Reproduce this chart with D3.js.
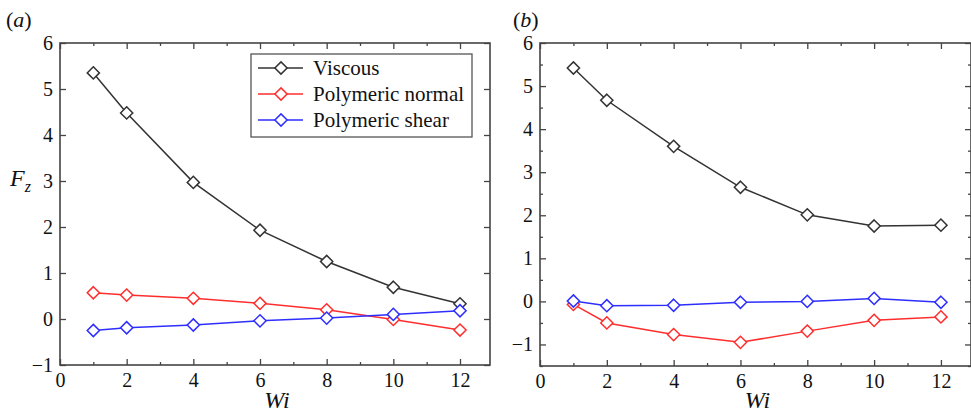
<!DOCTYPE html>
<html>
<head>
<meta charset="utf-8">
<style>
  body { margin: 0; background: #fff; }
</style>
</head>
<body>
<svg id="chart" width="971" height="415" font-family="Liberation Serif"></svg>
<script src="https://d3js.org/d3.v7.min.js"></script>
<script>
  // Weissenberg numbers (shared by both panels)
  const wi = [1, 2, 4, 6, 8, 10, 12];

  const seriesNames = ['Viscous', 'Polymeric normal', 'Polymeric shear'];
  const seriesColors = ['#333333', '#ff2e2e', '#2e2eff'];

  // panel (a)
  const viscousA = [5.35, 4.48, 2.97, 1.93, 1.25, 0.69, 0.33];
  const normalA = [0.57, 0.52, 0.45, 0.34, 0.2, -0.01, -0.24];
  const shearA = [-0.25, -0.19, -0.13, -0.04, 0.02, 0.1, 0.18];

  // panel (b)
  const viscousB = [5.42, 4.67, 3.6, 2.65, 2.01, 1.75, 1.77];
  const normalB = [-0.07, -0.5, -0.77, -0.95, -0.69, -0.44, -0.36];
  const shearB = [0.01, -0.1, -0.09, -0.02, 0.0, 0.07, -0.02];

  const xTicks = [0, 2, 4, 6, 8, 10, 12];
  const xMinor = [1, 3, 5, 7, 9, 11];

  const svg = d3.select('#chart');
  const serif = 'Liberation Serif';

  function styleAxis(sel) {
    sel.attr('font-family', serif).attr('font-size', 20);
    sel.select('.domain').remove();
    sel.selectAll('line').attr('stroke', '#444').attr('stroke-width', 1.3);
    sel.selectAll('text').attr('fill', '#111');
  }

  function drawPanel(opts) {
    const x = d3.scaleLinear().domain([0, 12.9]).range([opts.left, opts.right]);
    const y = d3.scaleLinear().domain(opts.yDomain).range([opts.bottom, opts.top]);
    const g = svg.append('g');

    const yTicks = d3.range(Math.ceil(opts.yDomain[0]), opts.yDomain[1] + 0.01, 1);
    const yMinor = d3.range(Math.ceil(opts.yDomain[0] * 2) / 2, opts.yDomain[1], 1)
      .filter((v) => !Number.isInteger(v));

    // major + minor ticks, inward, on all four sides
    g.append('g').attr('transform', `translate(0,${opts.bottom})`)
      .call(d3.axisBottom(x).tickValues(xTicks).tickSize(-6).tickPadding(8).tickFormat(d3.format('d')))
      .call(styleAxis);
    g.append('g').attr('transform', `translate(0,${opts.bottom})`)
      .call(d3.axisBottom(x).tickValues(xMinor).tickSize(-3).tickFormat(''))
      .call(styleAxis);
    g.append('g').attr('transform', `translate(0,${opts.top})`)
      .call(d3.axisTop(x).tickValues(xTicks).tickSize(-6).tickFormat(''))
      .call(styleAxis);
    g.append('g').attr('transform', `translate(0,${opts.top})`)
      .call(d3.axisTop(x).tickValues(xMinor).tickSize(-3).tickFormat(''))
      .call(styleAxis);

    g.append('g').attr('transform', `translate(${opts.left},0)`)
      .call(d3.axisLeft(y).tickValues(yTicks).tickSize(-6).tickPadding(7).tickFormat(d3.format('d')))
      .call(styleAxis);
    g.append('g').attr('transform', `translate(${opts.left},0)`)
      .call(d3.axisLeft(y).tickValues(yMinor).tickSize(-3).tickFormat(''))
      .call(styleAxis);
    g.append('g').attr('transform', `translate(${opts.right},0)`)
      .call(d3.axisRight(y).tickValues(yTicks).tickSize(-6).tickFormat(''))
      .call(styleAxis);
    g.append('g').attr('transform', `translate(${opts.right},0)`)
      .call(d3.axisRight(y).tickValues(yMinor).tickSize(-3).tickFormat(''))
      .call(styleAxis);

    // frame
    g.append('rect')
      .attr('x', opts.left).attr('y', opts.top)
      .attr('width', opts.right - opts.left).attr('height', opts.bottom - opts.top)
      .attr('fill', 'none').attr('stroke', '#444').attr('stroke-width', 1.6);

    const line = d3.line().x((d, i) => x(wi[i])).y((d) => y(d));
    const diamond = d3.symbol().type(d3.symbolDiamond2).size(95);

    opts.series.forEach((vals, k) => {
      g.append('path').datum(vals)
        .attr('fill', 'none').attr('stroke', seriesColors[k]).attr('stroke-width', 1.5)
        .attr('d', line);
      g.selectAll(null).data(vals).enter().append('path')
        .attr('transform', (d, i) => `translate(${x(wi[i])},${y(d)})`)
        .attr('d', diamond)
        .attr('fill', '#fff').attr('stroke', seriesColors[k]).attr('stroke-width', 1.5);
    });

    // x label
    g.append('text')
      .attr('x', (opts.left + opts.right) / 2 + 2).attr('y', 408)
      .attr('text-anchor', 'middle').attr('font-size', 24).attr('font-style', 'italic')
      .attr('font-family', serif).attr('fill', '#111')
      .text('Wi');

    // panel label
    g.append('text')
      .attr('x', opts.tagX).attr('y', 27).attr('font-size', 22)
      .attr('font-family', serif).attr('fill', '#111')
      .html(`(<tspan font-style="italic">${opts.tag}</tspan>)`);

    return { x, y, g };
  }

  drawPanel({
    left: 60, right: 490, top: 43, bottom: 365, yDomain: [-1, 6],
    series: [viscousA, normalA, shearA], tag: 'a', tagX: 6
  });
  drawPanel({
    left: 540, right: 971, top: 43, bottom: 366, yDomain: [-1.5, 6],
    series: [viscousB, normalB, shearB], tag: 'b', tagX: 513
  });

  // y label F_z
  const fz = svg.append('text').attr('x', 10).attr('y', 186)
    .attr('font-size', 24).attr('font-style', 'italic')
    .attr('font-family', serif).attr('fill', '#111');
  fz.append('tspan').text('F');
  fz.append('tspan').attr('font-size', 16).attr('dy', 6).text('z');

  // legend in panel (a)
  const leg = svg.append('g').attr('transform', 'translate(251,54)');
  leg.append('rect').attr('width', 221).attr('height', 83)
    .attr('fill', '#fff').attr('stroke', '#555').attr('stroke-width', 1.3);
  const legDiamond = d3.symbol().type(d3.symbolDiamond2).size(95);
  seriesNames.forEach((name, k) => {
    const row = leg.append('g').attr('transform', `translate(0,${14 + k * 26})`);
    row.append('line').attr('x1', 7).attr('x2', 52)
      .attr('stroke', seriesColors[k]).attr('stroke-width', 1.5);
    row.append('path').attr('transform', 'translate(30,0)').attr('d', legDiamond)
      .attr('fill', '#fff').attr('stroke', seriesColors[k]).attr('stroke-width', 1.5);
    row.append('text').attr('x', 62).attr('y', 7).attr('font-size', 21)
      .attr('font-family', serif).attr('fill', '#111').text(name);
  });
</script>
</body>
</html>
